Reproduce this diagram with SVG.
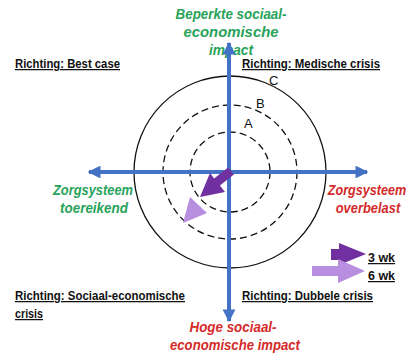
<svg xmlns="http://www.w3.org/2000/svg" width="412" height="355" viewBox="0 0 412 355">
<style>
text{font-family:"Liberation Sans",Arial,sans-serif}
.rich{font-size:12.5px;font-weight:bold;fill:#111;text-decoration:underline}
.ax{font-size:14.5px;font-weight:bold;font-style:italic}
.g{fill:#27a35a}
.r{fill:#d42a2a}
.ring{fill:none;stroke:#111;stroke-width:1.3}
.dash{stroke-dasharray:7 4}
.lbl{font-size:13px;fill:#111}
.axis{stroke:#4472c4;stroke-width:4;fill:none}
.leg{font-size:12.5px;font-weight:bold;fill:#111;text-decoration:underline}
</style>
<defs>
<marker id="ah" viewBox="0 0 10 10" refX="9" refY="5" markerWidth="3.2" markerHeight="3.2" orient="auto" markerUnits="strokeWidth">
<path d="M0,0 L10,5 L0,10 Z" fill="#4472c4"/>
</marker>
</defs>
<rect width="412" height="355" fill="#fff"/>
<g id="top-label">
<text class="ax g" x="231" y="19" text-anchor="middle" textLength="111" lengthAdjust="spacingAndGlyphs">Beperkte sociaal-</text>
<text class="ax g" x="231" y="37" text-anchor="middle" textLength="95" lengthAdjust="spacingAndGlyphs">economische</text>
<text class="ax g" x="231" y="55" text-anchor="middle" textLength="44" lengthAdjust="spacingAndGlyphs">impact</text>
</g>
<g id="circles">
<circle id="ringC" class="ring" cx="230" cy="172" r="96"/>
<circle id="ringB" class="ring dash" cx="230" cy="172" r="67"/>
<circle id="ringA" class="ring dash" cx="230" cy="172" r="40"/>
<text class="lbl" x="269" y="85">C</text>
<text class="lbl" x="256" y="108">B</text>
<text class="lbl" x="244" y="128">A</text>
</g>
<g id="connectors">
<line class="axis" x1="229" y1="320" x2="229" y2="43" marker-end="url(#ah)"/>
<line class="axis" x1="229" y1="172" x2="229" y2="321" marker-end="url(#ah)"/>
<line class="axis" x1="229" y1="172" x2="367" y2="172" marker-end="url(#ah)"/>
<line class="axis" x1="229" y1="172" x2="89" y2="172" marker-end="url(#ah)"/>
</g>
<g id="arrow3wk">
<polygon points="228.1,167.5 233.9,174.5 219.9,185.5 225,192 200,197 210,173 214.1,178.5" fill="#7030a0"/>
</g>
<g id="arrow6wk">
<polygon points="190,197 207,213 183,223" fill="#b88ee0"/>
</g>
<g id="legend">
<rect x="331" y="249" width="10" height="11" fill="#7030a0"/>
<polygon points="339,243 366,254 339,265" fill="#7030a0"/>
<rect x="312" y="266" width="28" height="10" fill="#b88ee0"/>
<polygon points="338,259 365,271 338,283" fill="#b88ee0"/>
<text class="leg" x="368" y="262" textLength="27" lengthAdjust="spacingAndGlyphs">3 wk</text>
<text class="leg" x="368" y="280" textLength="27" lengthAdjust="spacingAndGlyphs">6 wk</text>
</g>
<g id="left-label">
<text class="ax g" x="93" y="195" text-anchor="middle" textLength="80" lengthAdjust="spacingAndGlyphs">Zorgsysteem</text>
<text class="ax g" x="94" y="213" text-anchor="middle" textLength="68" lengthAdjust="spacingAndGlyphs">toereikend</text>
</g>
<g id="right-label">
<text class="ax r" text-anchor="middle" transform="translate(367,195) scale(0.87,1)">Zorgsysteem</text>
<text class="ax r" text-anchor="middle" transform="translate(368,213) scale(0.89,1)">overbelast</text>
</g>
<g id="bottom-label">
<text class="ax r" x="233" y="332" text-anchor="middle" textLength="87" lengthAdjust="spacingAndGlyphs">Hoge sociaal-</text>
<text class="ax r" x="235" y="350" text-anchor="middle" textLength="130" lengthAdjust="spacingAndGlyphs">economische impact</text>
</g>
<g id="quadrants">
<text class="rich" x="15" y="68" textLength="105" lengthAdjust="spacingAndGlyphs">Richting: Best case</text>
<text class="rich" x="242" y="68" textLength="138" lengthAdjust="spacingAndGlyphs">Richting: Medische crisis</text>
<text class="rich" x="15" y="300" textLength="170" lengthAdjust="spacingAndGlyphs">Richting: Sociaal-economische</text>
<text class="rich" x="15" y="318" textLength="28" lengthAdjust="spacingAndGlyphs">crisis</text>
<text class="rich" x="242" y="300" textLength="131" lengthAdjust="spacingAndGlyphs">Richting: Dubbele crisis</text>
</g>
</svg>
